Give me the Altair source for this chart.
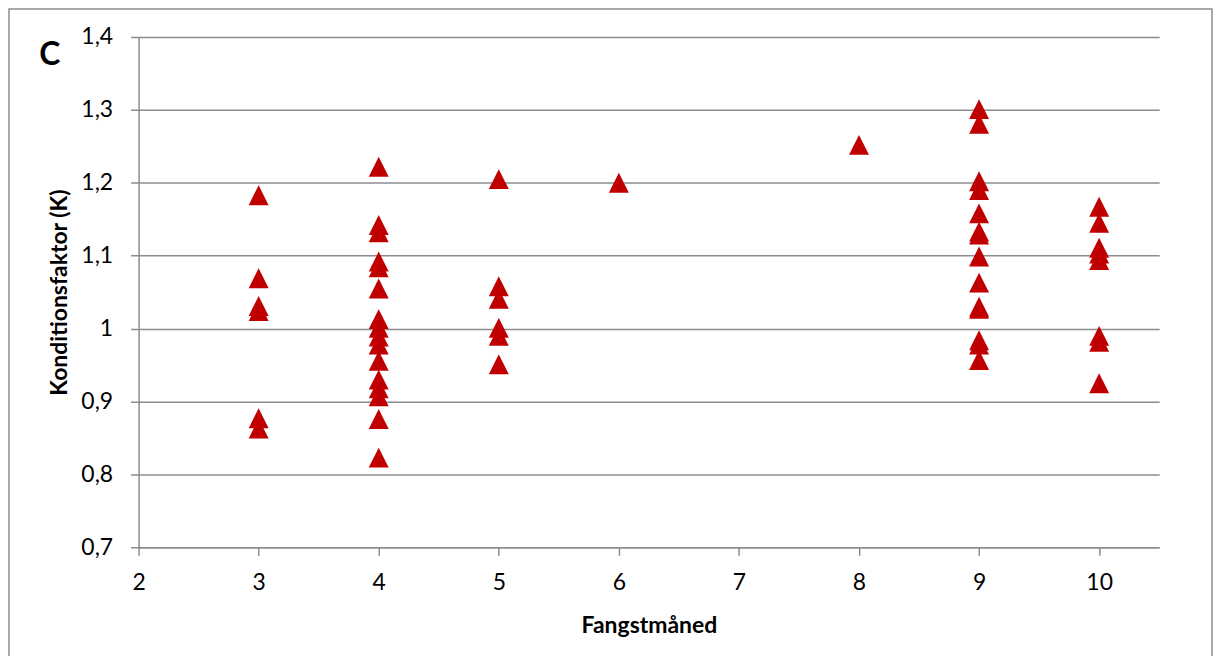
import pandas as pd
import altair as alt

# Konditionsfaktor (K) per fangstmåned
maaned_3 = [1.183, 1.069, 1.031, 1.024, 0.877, 0.863]
maaned_4 = [1.222, 1.142, 1.132, 1.092, 1.084, 1.055, 1.013, 1.001, 0.989,
            0.978, 0.956, 0.930, 0.918, 0.907, 0.876, 0.823]
maaned_5 = [1.205, 1.058, 1.041, 1.001, 0.990, 0.951]
maaned_6 = [1.200]
maaned_8 = [1.252]
maaned_9 = [1.301, 1.281, 1.202, 1.190, 1.158, 1.133, 1.129, 1.099, 1.063,
            1.030, 1.027, 0.984, 0.978, 0.957]
maaned_10 = [1.167, 1.145, 1.111, 1.103, 1.094, 0.990, 0.982, 0.925]

x_ticks = [2, 3, 4, 5, 6, 7, 8, 9, 10]
y_ticks = [0.7, 0.8, 0.9, 1.0, 1.1, 1.2, 1.3, 1.4]

rows = []
for m, vals in [(3, maaned_3), (4, maaned_4), (5, maaned_5), (6, maaned_6),
                (8, maaned_8), (9, maaned_9), (10, maaned_10)]:
    for v in vals:
        rows.append({"Fangstmåned": m, "K": v})
data = pd.DataFrame(rows)

FONT = "Lato"
GREY = "#8c8c8c"

points = alt.Chart(data).mark_point(
    shape="M0,-1L1,1L-1,1Z",
    filled=True,
    opacity=1,
    color="#c00000",
    size=400,
).encode(
    x=alt.X("Fangstmåned:Q",
            scale=alt.Scale(domain=[2, 10.5], nice=False, zero=False),
            axis=alt.Axis(values=x_ticks, grid=False, format="d",
                          title="Fangstmåned", titleX=512, titleY=78,
                          titleBaseline="middle", titleAlign="center",
                          labelPadding=27, labelBaseline="middle",
                          labelFlush=False)),
    y=alt.Y("K:Q",
            scale=alt.Scale(domain=[0.7, 1.4], nice=False, zero=False),
            axis=alt.Axis(values=y_ticks, grid=True,
                          labelExpr="replace(toString(round(datum.value*10)/10), '.', ',')",
                          title="Konditionsfaktor (K)", titleX=-79, titleY=256,
                          titleAngle=-90, titleAlign="center",
                          titleBaseline="middle", labelPadding=18,
                          labelFlush=False)),
)

frame_src = pd.DataFrame({"a": [0]})

frame = alt.Chart(frame_src).mark_rect(
    fill="transparent", stroke=GREY, strokeWidth=1.5
).encode(
    x=alt.value(-130), x2=alt.value(1077), y=alt.value(-28), y2=alt.value(700)
)

panel_label = alt.Chart(frame_src).mark_text(
    text="C", font=FONT, fontWeight="bold", fontSize=32,
    align="center", baseline="middle", color="black"
).encode(x=alt.value(-89), y=alt.value(18))

chart = alt.layer(frame, points, panel_label).properties(
    width=1024,
    height=512,
    autosize=alt.AutoSizeParams(type="none"),
    padding={"left": 131, "top": 28, "right": 55, "bottom": 108},
).configure_view(
    stroke=None
).configure_axis(
    domainColor=GREY,
    domainWidth=1.5,
    tickColor=GREY,
    tickWidth=1.5,
    tickSize=8,
    gridColor=GREY,
    gridWidth=1.5,
    labelFont=FONT,
    labelFontSize=23,
    labelColor="black",
    titleFont=FONT,
    titleFontSize=23,
    titleFontWeight="bold",
    titleColor="black",
)

chart.save("out.html", embed_options={"renderer": "svg", "actions": False})
